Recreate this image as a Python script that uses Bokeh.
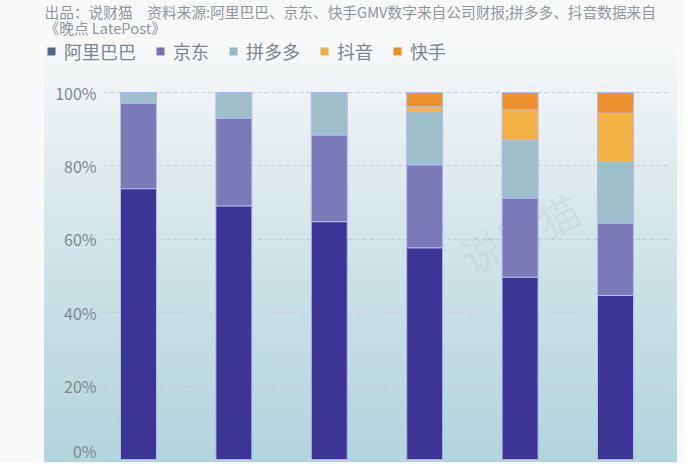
from bokeh.plotting import figure
from bokeh.models import (Range1d, FixedTicker, PrintfTickFormatter, Legend, LegendItem,
                          Label, ColumnDataSource)
from bokeh.embed import file_html
from bokeh.resources import INLINE

# ---- data (share of GMV, %) ----
series_names = ["阿里巴巴", "京东", "拼多多", "抖音", "快手"]
alibaba = [73.8, 69.1, 64.8, 57.7, 49.7, 44.7]
jd = [23.3, 23.9, 23.6, 22.6, 21.5, 19.7]
pdd = [2.9, 7.0, 11.6, 14.4, 15.8, 16.8]
douyin = [0.0, 0.0, 0.0, 1.4, 8.3, 13.2]
kuaishou = [0.0, 0.0, 0.0, 3.9, 4.7, 5.6]
y_ticks = [0, 20, 40, 60, 80, 100]

title_line1 = "出品：说财猫\u3000资料来源:阿里巴巴、京东、快手GMV数字来自公司财报;拼多多、抖音数据来自"
title_line2 = "《晚点 LatePost》"
watermark = "说财猫"

bar_colors = ["#3d3595", "#7c79b8", "#9dbfc9", "#f4b145", "#ee912e"]
legend_colors = ["#4a6a8d", "#7a70b0", "#93b8c6", "#f0b040", "#e98f22"]

CJK = "Noto Sans CJK SC"

x = list(range(len(alibaba)))
fields = ["a", "j", "p", "d", "k"]
src = ColumnDataSource(dict(x=x, a=alibaba, j=jd, p=pdd, d=douyin, k=kuaishou))

# frame covers the whole tinted panel; axis drawn inside it
FRAME_H = 459
PX_PER_UNIT = 3.67
BAR_W = 0.377
p = figure(width=684, height=462, output_backend="svg", toolbar_location=None,
           x_range=Range1d(-0.985, 5.65), y_range=Range1d(0, 100 + 92 / PX_PER_UNIT),
           x_axis_location=None, min_border_left=44, min_border_right=7,
           min_border_top=0, min_border_bottom=3)
p.background_fill_color = None
p.border_fill_color = None
p.outline_line_color = None
p.styles = {
    "background": "linear-gradient(180deg, #f8f9f9 0%, #eef3f5 12%, #dde9ed 35%, #c9e0e5 62%, #b1d5db 100%) 44px 40px / 633px 422px no-repeat, #f8f9f9"
}

p.xgrid.visible = False
p.ygrid.grid_line_color = "#c3cdd3"
p.ygrid.grid_line_dash = "4 3"
p.ygrid.grid_line_width = 1
p.ygrid.ticker = FixedTicker(ticks=y_ticks)
p.ygrid.cross_bounds = (-0.37, 5.57)

ax = p.yaxis[0]
ax.fixed_location = -0.398
ax.ticker = FixedTicker(ticks=y_ticks)
ax.formatter = PrintfTickFormatter(format="%d%%")
ax.axis_line_color = None
ax.major_tick_line_color = None
ax.minor_tick_line_color = None
ax.major_tick_out = 0
ax.major_tick_in = 0
ax.major_label_standoff = 4
ax.major_label_text_font = CJK
ax.major_label_text_font_size = "16px"
ax.major_label_text_color = "#7e8a91"

p.add_layout(Label(x=527 - 8 - 44, y=FRAME_H - (240 - 8), x_units="screen", y_units="screen",
                   text=watermark, angle=0.45, text_font=CJK, text_font_size="42px",
                   text_color="#8a9aa2", text_alpha=0.13, text_align="center",
                   text_baseline="middle", level="underlay"))

p.vbar_stack(fields, x="x", width=BAR_W, source=src,
             color=bar_colors, line_color="#b4b9ef", line_width=1)

# legend swatches: hidden copies of the series carrying the legend colours
items = []
for name, f, c in zip(series_names, fields, legend_colors):
    r = p.vbar(x="x", top=f, width=BAR_W, source=src, fill_color=c, line_color=None,
               visible=False)
    items.append(LegendItem(label=name, renderers=[r]))
legend = Legend(items=items, orientation="horizontal", location=(2, FRAME_H - 53 - 11),
                glyph_width=10, glyph_height=10, label_standoff=8, spacing=19,
                padding=0, margin=0, border_line_color=None, background_fill_alpha=0,
                inactive_fill_alpha=0, click_policy="none",
                label_text_font=CJK, label_text_font_size="18px",
                label_text_color="#7b868d", label_height=22)
p.add_layout(legend, "center")

for txt, fy in [(title_line1, 0), (title_line2, 16)]:
    p.add_layout(Label(x=0, y=FRAME_H - fy, x_units="screen", y_units="screen", text=txt,
                       text_font=CJK, text_font_size="14.7px", text_color="#8f979d",
                       text_align="left", text_baseline="top"))

open("out.html", "w").write(file_html(p, INLINE))
